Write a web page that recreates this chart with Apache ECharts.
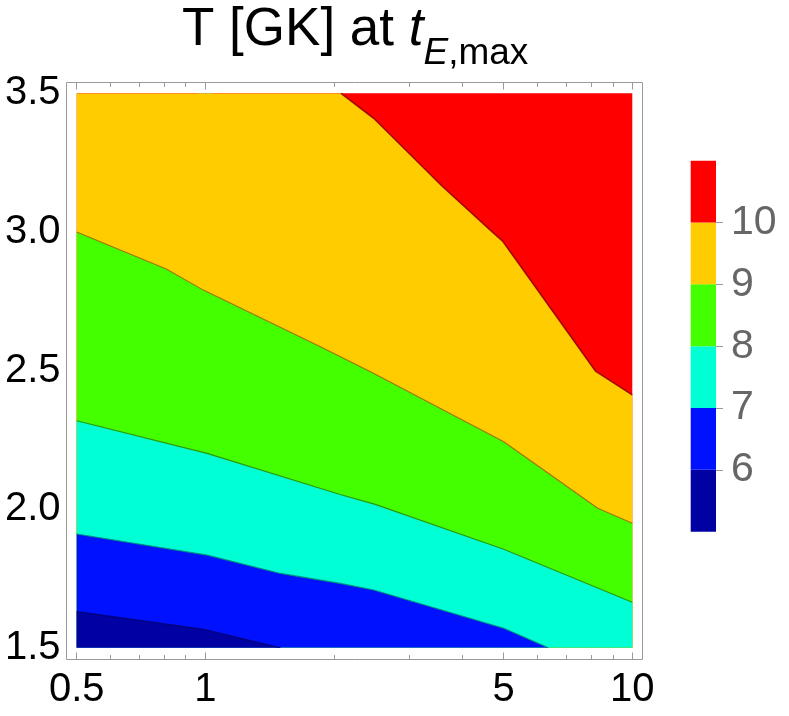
<!DOCTYPE html>
<html>
<head>
<meta charset="utf-8">
<script src="https://cdn.jsdelivr.net/npm/echarts@6/dist/echarts.min.js"></script>
<style>
html, body { margin: 0; padding: 0; background: #fff; }
#chart { width: 789px; height: 716px; }
</style>
</head>
<body>
<div id="chart"></div>
<script>
// contour levels and band colours (T in GK)
var levels = [6, 7, 8, 9, 10];
var bandEdges = [5, 6, 7, 8, 9, 10, 11];
var bandColors = ['#0000a3', '#0011ff', '#00ffd4', '#44ff00', '#ffcc00', '#ff0000'];
var lineColors = ['#00006e', '#008f7a', '#2b8f00', '#996a00', '#990000'];

// axis ticks
var xTickMajor = [0.5, 1, 5, 10];
var xTickMinor = [0.6, 0.7, 0.8, 0.9, 2, 3, 4, 6, 7, 8, 9];
var xLabels = [0.5, 1, 5, 10];

// contour lines, [x, y]
var contour6 = [[0.5, 1.63], [0.99, 1.566], [1.5, 1.5]];
var contour7 = [[0.5, 1.91], [1.01, 1.834], [1.5, 1.768], [2.07, 1.732], [2.48, 1.708], [5, 1.57], [6.36, 1.5]];
var contour8 = [[0.5, 2.319], [1.01, 2.201], [2.07, 2.053], [2.5, 2.017], [5, 1.855], [10, 1.664]];
var contour9 = [[0.5, 3.0], [0.81, 2.866], [0.99, 2.79], [1.86, 2.586], [2.45, 2.494], [2.94, 2.43], [5, 2.243], [8.3, 2.003], [10, 1.949]];
var contour10 = [[0.5, 3.5], [2.08, 3.5], [2.48, 3.41], [3.6, 3.163], [4.7, 3.0], [4.97, 2.967], [8.2, 2.498], [10, 2.412]];

var contours = [contour6, contour7, contour8, contour9, contour10];

var FONT = 'Liberation Sans';
var TICK = '#9a9a9a';
var lg = function (v) { return Math.log10(v); };

var myChart = echarts.init(document.getElementById('chart'));

var series = [];
// filled bands: each contour fills down to y min with the colour of the band below it
for (var i = contours.length - 1; i >= 0; i--) {
	series.push({
		type: 'line',
		xAxisIndex: 0, yAxisIndex: 0,
		data: contours[i],
		showSymbol: false,
		lineStyle: { width: 0 },
		areaStyle: { color: bandColors[i], opacity: 1, origin: 'start' },
		silent: true
	});
}
// contour lines on top
for (var j = 0; j < contours.length; j++) {
	series.push({
		type: 'line',
		xAxisIndex: 0, yAxisIndex: 0,
		data: j === 4 ? contours[j].slice(1) : contours[j],
		showSymbol: false,
		lineStyle: { width: j === 4 ? 1.6 : 1.1, color: lineColors[j], opacity: 0.9 },
		silent: true
	});
}
// colour bar: transparent base then one stacked block per band
series.push({
	type: 'bar', xAxisIndex: 5, yAxisIndex: 2, stack: 'cb',
	barWidth: '100%', data: [bandEdges[0]],
	itemStyle: { color: 'transparent' }, silent: true
});
for (var k = 0; k < bandColors.length; k++) {
	series.push({
		type: 'bar', xAxisIndex: 5, yAxisIndex: 2, stack: 'cb',
		barWidth: '100%', data: [bandEdges[k + 1] - bandEdges[k]],
		itemStyle: { color: bandColors[k] }, silent: true
	});
}

function tickAxis(pos, offset, values, len, labels) {
	return {
		type: 'value', gridIndex: 0, position: pos, offset: offset,
		min: lg(0.5), max: 1,
		axisLine: { show: false },
		splitLine: { show: false },
		axisTick: { show: true, inside: true, length: len, customValues: values.map(lg), lineStyle: { color: TICK } },
		axisLabel: labels ? {
			show: true, customValues: labels.map(lg), margin: 10,
			fontFamily: FONT, fontSize: 40, color: '#000',
			formatter: function (v) { return String(parseFloat(Math.pow(10, v).toPrecision(3))); }
		} : { show: false }
	};
}

function yFrameAxis(pos, showLabel) {
	return {
		type: 'value', gridIndex: 0, position: pos, offset: 10.2,
		min: 1.5, max: 3.5, interval: 0.5,
		axisLine: { show: false },
		splitLine: { show: false },
		axisTick: { show: true, inside: true, length: 7, lineStyle: { color: TICK } },
		minorTick: { show: true, splitNumber: 5, length: 4.5, lineStyle: { color: TICK } },
		minorSplitLine: { show: false },
		axisLabel: showLabel ? {
			show: true, margin: 6, fontFamily: FONT, fontSize: 40, color: '#000',
			formatter: function (v) { return v.toFixed(1); }
		} : { show: false }
	};
}

myChart.setOption({
	animation: false,
	title: {
		left: 182, top: 4, padding: 0,
		text: '{a|T [GK] at }{i|t}{e|E}{s|,max}',
		textStyle: {
			fontWeight: 'normal',
			rich: {
				a: { fontFamily: FONT, fontSize: 53, fontWeight: 'normal', color: '#000', lineHeight: 60, verticalAlign: 'top' },
				i: { fontFamily: FONT, fontSize: 53, fontWeight: 'normal', fontStyle: 'italic', color: '#000', lineHeight: 60, verticalAlign: 'top' },
				e: { fontFamily: FONT, fontSize: 37, fontWeight: 'normal', fontStyle: 'italic', color: '#000', lineHeight: 37, padding: [31, 0, 0, 0], verticalAlign: 'top' },
				s: { fontFamily: FONT, fontSize: 37, fontWeight: 'normal', color: '#000', lineHeight: 37, padding: [31, 0, 0, 0], verticalAlign: 'top' }
			}
		}
	},
	grid: [
		{ left: 76.7, top: 93.3, width: 555.6, height: 554.4, show: true, backgroundColor: bandColors[5], borderWidth: 0 },
		{ left: 690.7, top: 160.7, width: 25.3, height: 371 }
	],
	graphic: [{
		type: 'rect', z: 10, silent: true,
		shape: { x: 66.5, y: 82.5, width: 576, height: 577 },
		style: { fill: 'none', stroke: TICK, lineWidth: 1 }
	}],
	xAxis: [
		{ type: 'log', logBase: 10, gridIndex: 0, min: 0.5, max: 10, show: false },
		tickAxis('bottom', 11.8, xTickMajor, 7, xLabels),
		tickAxis('bottom', 11.8, xTickMinor, 4.5, null),
		tickAxis('top', 10.8, xTickMajor, 7, null),
		tickAxis('top', 10.8, xTickMinor, 4.5, null),
		{ type: 'category', gridIndex: 1, data: ['T'], show: false }
	],
	yAxis: [
		yFrameAxis('left', true),
		yFrameAxis('right', false),
		{
			type: 'value', gridIndex: 1, position: 'right',
			min: bandEdges[0], max: bandEdges[bandEdges.length - 1], interval: 1,
			axisLine: { show: false },
			splitLine: { show: false },
			axisTick: { show: true, length: 7, customValues: levels, lineStyle: { color: TICK } },
			axisLabel: { show: true, customValues: levels, margin: 15, fontFamily: FONT, fontSize: 41, color: '#666' }
		}
	],
	series: series
});
</script>
</body>
</html>
